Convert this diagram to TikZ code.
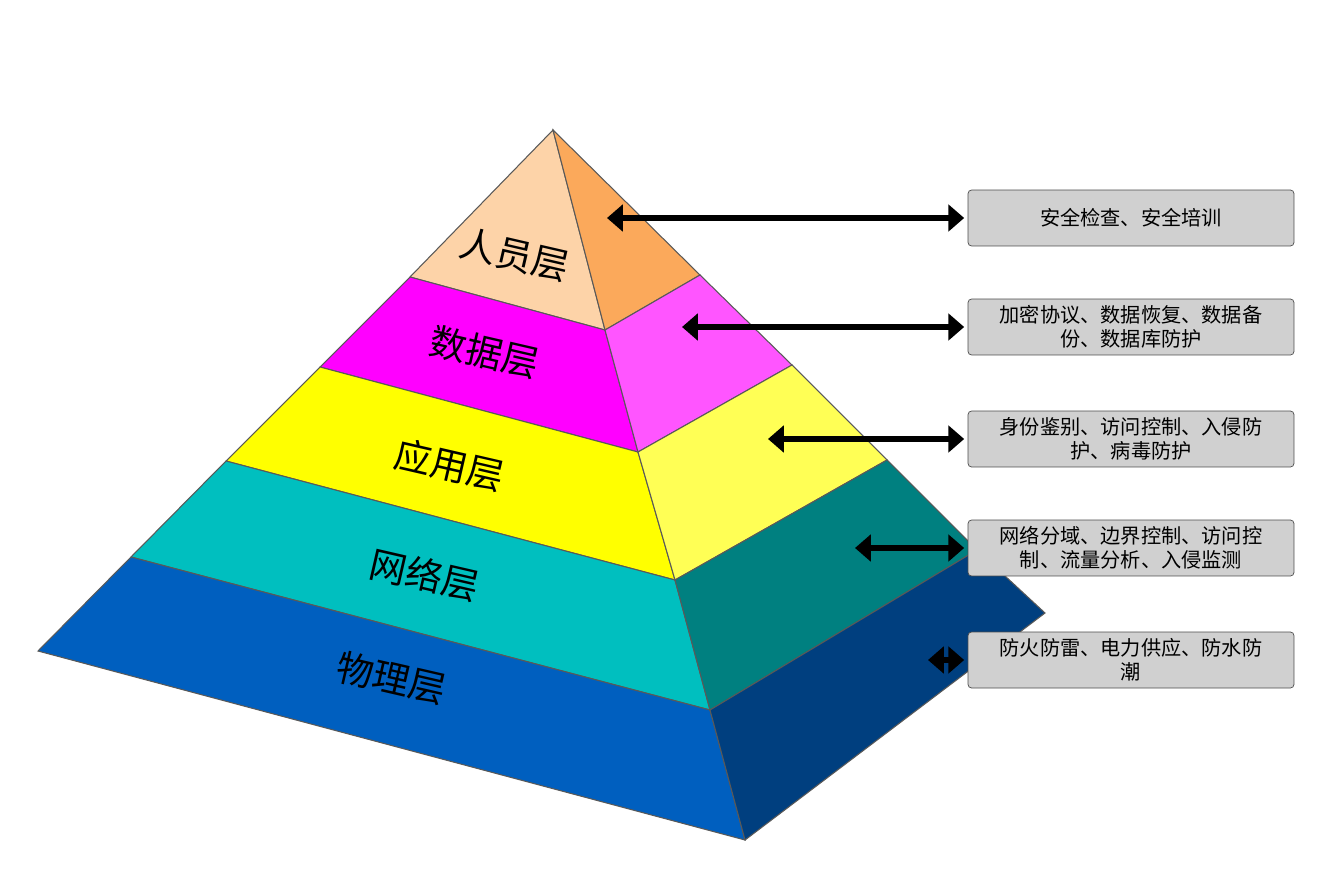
\documentclass[tikz,border=0pt]{standalone}
\usepackage{fontspec}
\setmainfont{Noto Sans CJK SC}
\usetikzlibrary{arrows.meta}
\definecolor{pA}{HTML}{FDD3A8}\definecolor{pB}{HTML}{FBA95B}
\definecolor{dA}{HTML}{FF00FF}\definecolor{dB}{HTML}{FF55FF}
\definecolor{aA}{HTML}{FFFF00}\definecolor{aB}{HTML}{FFFF55}
\definecolor{nA}{HTML}{00BFBF}\definecolor{nB}{HTML}{008080}
\definecolor{wA}{HTML}{005FBF}\definecolor{wB}{HTML}{003F7F}
\definecolor{boxg}{HTML}{D0D0D0}
\tikzset{face/.style={draw=gray!70!black,line width=0.6pt},
 lay/.style={font=\fontsize{21}{24}\selectfont,rotate=-13,inner sep=0pt},
 infobox/.style={draw=gray!60!black,fill=boxg,rounded corners=2pt,minimum width=6.52cm,minimum height=1.12cm,align=center,font=\fontsize{11.5}{13.5}\selectfont},
 arr/.style={line width=3.4pt,{Triangle[length=9pt,width=15pt]}-{Triangle[length=9pt,width=15pt]}}}
\begin{document}
\begin{tikzpicture}[x=0.02cm,y=-0.02cm]
\useasboundingbox (0,0) rectangle (1332,882);
\coordinate (T) at (553,130);
% left faces
\filldraw[face,fill=pA] (T)--(410,277)--(605,330)--cycle;
\filldraw[face,fill=dA] (410,277)--(320,367)--(638,452)--(605,330)--cycle;
\filldraw[face,fill=aA] (320,367)--(226,461)--(675,580)--(638,452)--cycle;
\filldraw[face,fill=nA] (226,461)--(131,557)--(710,710)--(675,580)--cycle;
\filldraw[face,fill=wA] (131,557)--(38,651)--(745,840)--(710,710)--cycle;
% right faces
\filldraw[face,fill=pB] (T)--(605,330)--(700,275)--cycle;
\filldraw[face,fill=dB] (605,330)--(638,452)--(792,365)--(700,275)--cycle;
\filldraw[face,fill=aB] (638,452)--(675,580)--(887,460)--(792,365)--cycle;
\filldraw[face,fill=nB] (675,580)--(710,710)--(977,550)--(887,460)--cycle;
\filldraw[face,fill=wB] (710,710)--(745,840)--(1045,613)--(977,550)--cycle;
% labels
\node[lay] (l1) at (515,255) {人员层};
\node[lay] (l2) at (485,352) {数据层};
\node[lay] (l3) at (450,465) {应用层};
\node[lay] (l4) at (425,575) {网络层};
\node[lay] (l5) at (392,678) {物理层};
% boxes
\node[infobox] (b1) at (1131,218) {安全检查、安全培训};
\node[infobox] (b2) at (1131,327) {加密协议、数据恢复、数据备\\份、数据库防护};
\node[infobox] (b3) at (1131,439) {身份鉴别、访问控制、入侵防\\护、病毒防护};
\node[infobox] (b4) at (1131,548) {网络分域、边界控制、访问控\\制、流量分析、入侵监测};
\node[infobox] (b5) at (1131,660) {防火防雷、电力供应、防水防\\潮};
\coordinate (s1) at (607,218);
\coordinate (s2) at (682,327);
\coordinate (s3) at (768,439);
\coordinate (s4) at (855,548);
\coordinate (s5) at (928,660);
\foreach \i in {1,...,5}{\draw[arr] (s\i) -- ([xshift=-2pt]b\i.west |- s\i);}
\end{tikzpicture}
\end{document}
